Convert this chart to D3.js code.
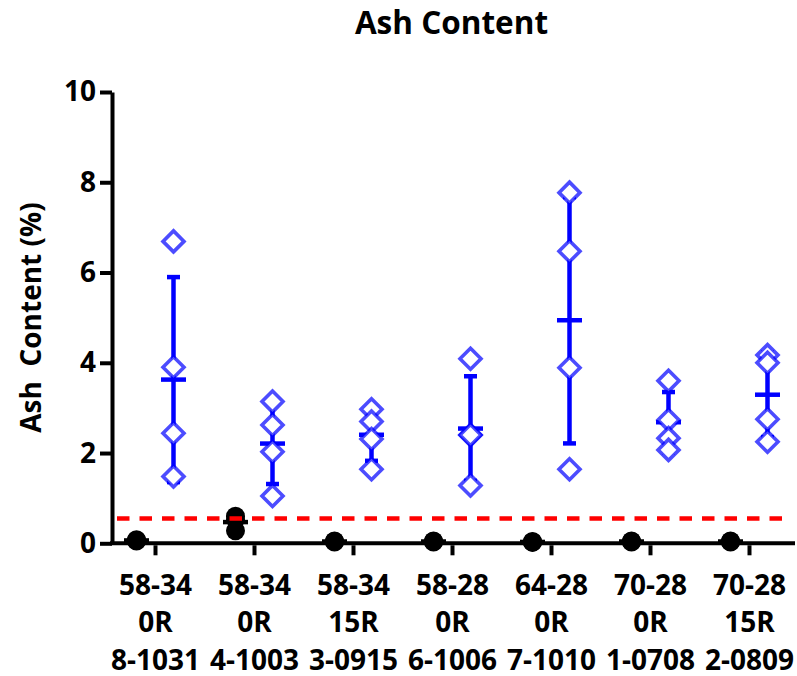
<!DOCTYPE html>
<html><head><meta charset="utf-8">
<script src="https://cdn.jsdelivr.net/npm/d3@7"></script>
<style>
body{margin:0;background:#fff}
text{font-family:"Open Sans",sans-serif;font-weight:700;fill:#000}
</style>
</head><body>
<svg id="c" width="797" height="676"></svg>
<script>
// ---- data ----
const categories = ["58-34\n0R\n8-1031","58-34\n0R\n4-1003","58-34\n15R\n3-0915","58-28\n0R\n6-1006","64-28\n0R\n7-1010","70-28\n0R\n1-0708","70-28\n15R\n2-0809"];
const controlValues = [[0.08,0.06,0.05],[0.60,0.53,0.28],[0.05,0.04,0.03],[0.05,0.04,0.03],[0.04,0.03,0.02],[0.05,0.04,0.03],[0.05,0.04,0.03]];
const treatedValues = [[6.69,3.90,2.44,1.48],[3.14,2.62,2.03,1.05],[2.97,2.70,2.31,1.64],[4.09,2.40,2.40,1.28],[7.77,6.47,3.89,1.64],[3.60,2.73,2.33,2.07],[4.17,4.00,2.75,2.25]];
const yTicks = [0,2,4,6,8,10];
const threshold = 0.55;
const title = "Ash Content";
const yTitle = "Ash  Content (%)";

// ---- layout ----
const svg = d3.select("#c");
const y = d3.scaleLinear().domain([0,10]).range([543.3,92]);
const x = d3.scaleBand().domain(categories).range([105.5,798.5]).padding(0);
const sub = d3.scalePoint().domain(["control","treated"]).range([-18.5,18.5]);
const cx = (c, s) => x(c) + x.bandwidth()/2 + sub(s);
const axisX = 112;

// titles
svg.append("text").attr("x",451.5).attr("y",34).attr("text-anchor","middle")
  .style("font-size","31.5px").text(title);
svg.append("text").attr("transform","translate(41,317.5) rotate(-90)")
  .attr("text-anchor","middle").style("font-size","28px").style("white-space","pre")
  .attr("xml:space","preserve").text(yTitle);

// y axis
const ya = svg.append("g").attr("transform",`translate(${axisX},0)`)
  .call(d3.axisLeft(y).tickValues(yTicks).tickSize(12).tickSizeOuter(0).tickPadding(4));
ya.selectAll("path,line").attr("stroke","#000").attr("stroke-width",4);
ya.selectAll("text").style("font-size","28px").attr("font-family",null).attr("fill","#000");

// x axis
const xa = svg.append("g").attr("transform",`translate(0,${y(0)})`)
  .call(d3.axisBottom(d3.scalePoint().domain(categories).range([x(categories[0])+x.bandwidth()/2, x(categories[categories.length-1])+x.bandwidth()/2]))
    .tickSize(12).tickSizeOuter(0));
xa.select(".domain").remove();
xa.selectAll("line").attr("stroke","#000").attr("stroke-width",4).attr("y1",2);
xa.append("line").attr("x1",axisX-2).attr("x2",795).attr("y1",0).attr("y2",0)
  .attr("stroke","#000").attr("stroke-width",4);
xa.selectAll(".tick text").each(function(d){
  const t = d3.select(this).attr("dy",null).attr("y",0).attr("font-family",null).attr("fill","#000").style("font-size","28px");
  t.text(null);
  d.split("\n").forEach((s,i)=>t.append("tspan").attr("x",0).attr("y",51.7+i*37.3).text(s));
});

// stats
function stats(v){ return {m:d3.mean(v), s:d3.deviation(v)}; }

function drawErr(g, c, vals, color){
  const {m,s} = stats(vals);
  const X = cx(c, g);
  const grp = svg.append("g").attr("stroke",color).attr("stroke-width",4.5);
  grp.append("line").attr("x1",X).attr("x2",X).attr("y1",y(m+s)).attr("y2",y(m-s));
  grp.append("line").attr("x1",X-6.5).attr("x2",X+6.5).attr("y1",y(m+s)).attr("y2",y(m+s));
  grp.append("line").attr("x1",X-6.5).attr("x2",X+6.5).attr("y1",y(m-s)).attr("y2",y(m-s));
  grp.append("line").attr("x1",X-12.5).attr("x2",X+12.5).attr("y1",y(m)).attr("y2",y(m));
}

categories.forEach((c,i)=>{
  drawErr("control", c, controlValues[i], "#000");
  drawErr("treated", c, treatedValues[i], "#0000ff");
});

// control circles
categories.forEach((c,i)=>{
  svg.append("g").selectAll("circle").data(controlValues[i]).join("circle")
    .attr("cx",cx(c,"control")).attr("cy",d=>y(d)).attr("r",9.5).attr("fill","#000");
});
// treated diamonds
const r = 10.5;
const diamond = `M0,${-r}L${r},0L0,${r}L${-r},0Z`;
categories.forEach((c,i)=>{
  svg.append("g").selectAll("path").data(treatedValues[i]).join("path")
    .attr("d",diamond).attr("transform",d=>`translate(${cx(c,"treated")},${y(d)})`)
    .attr("fill","#fff").attr("stroke","#0000ff").attr("stroke-opacity",0.7).attr("stroke-width",3.6);
});

// threshold line
svg.append("line").attr("x1",117).attr("x2",787).attr("y1",y(threshold)).attr("y2",y(threshold))
  .attr("stroke","#ff0000").attr("stroke-width",4.5).attr("stroke-dasharray","12.5,10");
</script>
</body></html>
